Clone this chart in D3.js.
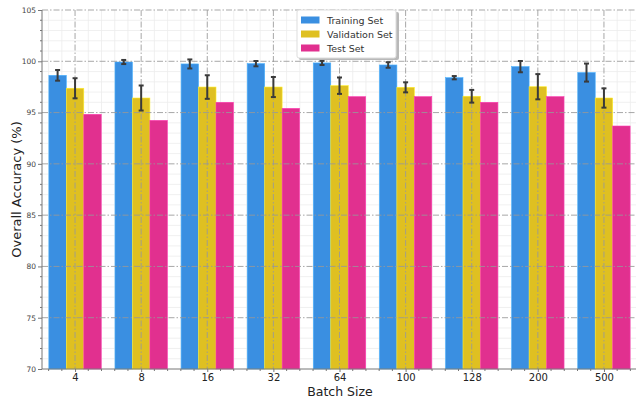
<!DOCTYPE html>
<html>
<head>
  <meta charset="utf-8">
  <title>Batch Size Accuracy</title>
  <script src="https://cdn.jsdelivr.net/npm/d3@7"></script>
  <style>
    body { margin: 0; background: #fff; }
    text { font-family: "DejaVu Sans", sans-serif; }
  </style>
</head>
<body>
  <script type="text/javascript">
    // data
    var batchSizes = ["4", "8", "16", "32", "64", "100", "128", "200", "500"];
    var seriesNames = ["Training Set", "Validation Set", "Test Set"];
    var trainAcc = [98.63, 99.93, 99.74, 99.77, 99.84, 99.64, 98.40, 99.48, 98.90];
    var trainErr = [0.52, 0.20, 0.44, 0.26, 0.20, 0.27, 0.16, 0.55, 0.88];
    var valAcc = [97.37, 96.42, 97.49, 97.49, 97.62, 97.46, 96.59, 97.52, 96.42];
    var valErr = [0.98, 1.22, 1.15, 0.98, 0.80, 0.49, 0.62, 1.23, 0.94];
    var testAcc = [94.83, 94.24, 96.00, 95.41, 96.55, 96.55, 96.00, 96.55, 93.69];
    var yTicks = [70, 75, 80, 85, 90, 95, 100, 105];

    var colors = ["#3a8fe1", "#dfc021", "#e1308f"];
    var series = [
      { values: trainAcc, errs: trainErr },
      { values: valAcc, errs: valErr },
      { values: testAcc, errs: null }
    ];

    //Width and height
    var w = 636;
    var h = 398;
    var plotL = 42, plotT = 10, plotB = 369, plotR = 637;

    var x = d3.scaleLinear().domain([-0.5, 8.5]).range([plotL, plotR]);
    var y = d3.scaleLinear().domain([70, 105]).range([plotB, plotT]);
    var barW = 0.264;

    var svg = d3.select("body")
      .append("svg")
      .attr("width", w)
      .attr("height", h);

    // minor grid
    var minorX = d3.range(-2, 43).map(function(d) { return d / 5; })
      .filter(function(d) { return Math.abs(d - Math.round(d)) > 0.01; });
    var minorY = d3.range(70, 106).filter(function(d) { return d % 5 !== 0; });

    var grid = svg.append("g").attr("class", "grid");
    grid.selectAll("line.mx").data(minorX).enter().append("line")
      .attr("x1", function(d) { return x(d); }).attr("x2", function(d) { return x(d); })
      .attr("y1", plotT).attr("y2", plotB)
      .attr("stroke", "#ececec").attr("stroke-width", 0.8);
    grid.selectAll("line.my").data(minorY).enter().append("line")
      .attr("x1", plotL).attr("x2", plotR)
      .attr("y1", function(d) { return y(d); }).attr("y2", function(d) { return y(d); })
      .attr("stroke", "#ececec").attr("stroke-width", 0.8);

    // bars
    series.forEach(function(s, k) {
      svg.append("g").selectAll("rect").data(s.values).enter().append("rect")
        .attr("x", function(d, i) { return x(i + (k - 1.5) * barW); })
        .attr("width", x(barW) - x(0))
        .attr("y", function(d) { return y(d); })
        .attr("height", function(d) { return plotB - y(d); })
        .attr("fill", colors[k])
        .attr("stroke", d3.color(colors[k]).brighter(0.6))
        .attr("stroke-width", 0.6);
    });

    // major grid on top of bars (dash-dot)
    grid = svg.append("g");
    grid.selectAll("line.gx").data(batchSizes).enter().append("line")
      .attr("x1", function(d, i) { return x(i); }).attr("x2", function(d, i) { return x(i); })
      .attr("y1", plotT).attr("y2", plotB)
      .attr("stroke", "#999").attr("stroke-width", 1)
      .attr("stroke-dasharray", "6,2,1.5,2").attr("opacity", 0.85);
    grid.selectAll("line.gy").data(yTicks.slice(1)).enter().append("line")
      .attr("x1", plotL).attr("x2", plotR)
      .attr("y1", function(d) { return y(d); }).attr("y2", function(d) { return y(d); })
      .attr("stroke", "#999").attr("stroke-width", 1)
      .attr("stroke-dasharray", "6,2,1.5,2").attr("opacity", 0.85);

    // error bars
    series.forEach(function(s, k) {
      if (!s.errs) return;
      var g = svg.append("g").attr("stroke", "#3a3a3a").attr("stroke-width", 2);
      s.values.forEach(function(v, i) {
        var cx = x(i + (k - 1) * barW);
        var e = s.errs[i];
        g.append("line").attr("x1", cx).attr("x2", cx).attr("y1", y(v - e)).attr("y2", y(v + e));
        g.append("line").attr("x1", cx - 2.5).attr("x2", cx + 2.5).attr("y1", y(v - e)).attr("y2", y(v - e));
        g.append("line").attr("x1", cx - 2.5).attr("x2", cx + 2.5).attr("y1", y(v + e)).attr("y2", y(v + e));
      });
    });

    // axes
    var yAxis = d3.axisLeft(y).tickValues(yTicks).tickSize(4).tickPadding(2);
    var gy = svg.append("g").attr("transform", "translate(" + plotL + ",0)").call(yAxis);
    gy.selectAll("text").attr("font-size", 7.5).attr("fill", "#444");
    gy.selectAll("line, path").attr("stroke", "#777");
    gy.select(".domain").attr("d", "M0," + plotT + "V" + plotB);
    svg.append("g").selectAll("line").data(minorY).enter().append("line")
      .attr("x1", plotL - 2).attr("x2", plotL)
      .attr("y1", function(d) { return y(d); }).attr("y2", function(d) { return y(d); })
      .attr("stroke", "#777");

    var xAxis = d3.axisBottom(x).tickValues(d3.range(batchSizes.length))
      .tickFormat(function(d) { return batchSizes[d]; }).tickSize(3).tickPadding(1.5);
    var gx = svg.append("g").attr("transform", "translate(0," + plotB + ")").call(xAxis);
    gx.selectAll("text").attr("font-size", 10).attr("fill", "#222");
    gx.selectAll("line, path").attr("stroke", "#777");
    gx.select(".domain").attr("d", "M" + plotL + ",0H" + plotR);
    svg.append("g").selectAll("line").data(minorX).enter().append("line")
      .attr("x1", function(d) { return x(d); }).attr("x2", function(d) { return x(d); })
      .attr("y1", plotB).attr("y2", plotB + 2)
      .attr("stroke", "#777");

    // axis labels
    svg.append("text").attr("x", 340).attr("y", 395.5)
      .attr("text-anchor", "middle").attr("font-size", 12.5).attr("fill", "#222")
      .text("Batch Size");
    svg.append("text")
      .attr("transform", "translate(21," + ((plotT + plotB) / 2) + ") rotate(-90)")
      .attr("text-anchor", "middle").attr("font-size", 13).attr("fill", "#222")
      .text("Overall Accuracy (%)");

    // legend
    var lg = svg.append("g").attr("transform", "translate(297,10)");
    lg.append("rect").attr("x", 2).attr("y", 2).attr("width", 100).attr("height", 48)
      .attr("rx", 2).attr("fill", "#b8b8b8");
    lg.append("rect").attr("x", 0).attr("y", 0).attr("width", 99).attr("height", 48)
      .attr("rx", 2).attr("fill", "#fff").attr("stroke", "#ddd");
    seriesNames.forEach(function(n, k) {
      var cy = 10 + k * 14;
      lg.append("rect").attr("x", 4).attr("y", cy - 3.5).attr("width", 18.5).attr("height", 7)
        .attr("fill", colors[k]);
      lg.append("text").attr("x", 30).attr("y", cy + 3.5)
        .attr("font-size", 9.5).attr("fill", "#333").text(n);
    });
  </script>
</body>
</html>
